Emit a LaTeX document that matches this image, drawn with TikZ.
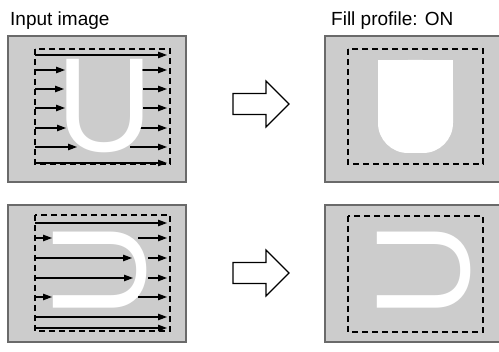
\documentclass[tikz,border=0pt]{standalone}
\usepackage{fontspec}
\setmainfont{Liberation Sans}
\usetikzlibrary{arrows.meta}
\definecolor{panelgray}{HTML}{CCCCCC}
\definecolor{paneledge}{HTML}{6A6A6A}

\begin{document}
\begin{tikzpicture}[
  x=1pt,y=-1pt,
  panel/.style={draw=paneledge,line width=2pt,fill=panelgray},
  scanbox/.style={draw=black,line width=1.2pt,dash pattern=on 6pt off 4pt},
  scan/.style={line width=1.1pt,-{Triangle[length=9pt,width=6.5pt]}},
  blockarrow/.style={draw=black,line width=1.1pt,fill=white,line join=miter},
  title/.style={font=\fontsize{19}{22}\selectfont,inner sep=0,anchor=base west},
  glyph/.style={font=\fontsize{134}{134}\selectfont,text=white,inner sep=0}
]
  \useasboundingbox (0,0) rectangle (499,352);
  \node[title] (intitle) at (10,26) {Input image};
  \node[title] (outtitle) at (331,26) {Fill profile: ON};

  % input images
  \draw[panel] (8,36) rectangle (186,182);
  \draw[panel] (8,205) rectangle (186,342);
  \draw[scanbox] (35,49) rectangle (170,164);
  \draw[scanbox] (35,215) rectangle (170,331);
  \foreach \y/\a in {55/167,70/65,89/64,108/65,128/66,147/77,163/167,
                     223/167,238/52,258/132,278/133,297/52,317/167,328/167}
    \draw[scan] (35,\y) -- (\a,\y);
  \foreach \y/\b in {70/142,89/143,108/143,128/140,147/130,
                     238/138,258/148,278/148,297/138}
    \draw[scan] (\b,\y) -- (167,\y);
  \node[glyph] (ushape) at (104.5,106) {U};
  \node[glyph,rotate=90] (dshape) at (100,270) {U};

  \foreach \cy in {104,273}
    \draw[blockarrow] (233,\cy-10.5) -- (266,\cy-10.5) -- (266,\cy-23) -- (289,\cy)
      -- (266,\cy+23) -- (266,\cy+10.5) -- (233,\cy+10.5) -- cycle;

  % filled profiles
  \draw[panel] (325,36) rectangle (503,182);
  \draw[panel] (325,205) rectangle (503,342);
  \draw[scanbox] (348,49) rectangle (483,164);
  \draw[scanbox] (348,216) rectangle (483,332);
  \fill[white,rounded corners=30pt] (378,60) rectangle (453,153);
  \fill[white] (378,60) rectangle (453,110);
  \node[glyph,rotate=90] (dfilled) at (424,270) {U};
\end{tikzpicture}
\end{document}
